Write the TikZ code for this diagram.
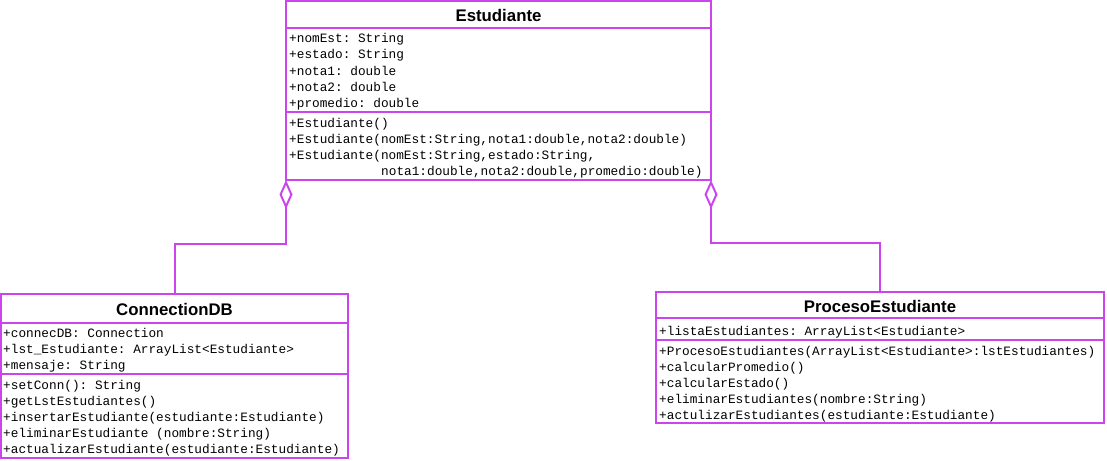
\documentclass[tikz,border=0pt]{standalone}
\usepackage{fontspec}
\setmainfont{Liberation Sans}
\setmonofont{Liberation Mono}
\usetikzlibrary{arrows.meta}
\definecolor{uml}{RGB}{204,68,238}
\tikzset{
  box/.style={draw=uml, line width=2pt, inner sep=0pt, outer sep=0pt, anchor=north west},
  ttl/.style={font=\bfseries\fontsize{16.8}{16.8}\selectfont, inner sep=0pt},
  mem/.style={font=\ttfamily\fontsize{12.75}{16}\selectfont, anchor=base west, inner sep=0pt},
  sep/.style={draw=uml, line width=2pt},
  agg/.style={draw=uml, line width=2pt, {Diamond[open, length=29pt 0, width=13pt 0, line width=2pt]}-},
}
\begin{document}
\begin{tikzpicture}[x=1pt,y=-1pt]
\useasboundingbox (0,0) rectangle (1107,460);
% ---------- Estudiante ----------
\node[box, minimum width=425pt, minimum height=179pt] (est) at (286,1) {};
\draw[sep] (est.west |- 0,28) -- (est.east |- 0,28);
\draw[sep] (est.west |- 0,112) -- (est.east |- 0,112);
\node[ttl] (estT) at (498.5,15) {Estudiante};
\node[mem] (ea1) at (289,43) {+nomEst: String};
\node[mem] (ea2) at (289,59) {+estado: String};
\node[mem] (ea3) at (289,75) {+nota1: double};
\node[mem] (ea4) at (289,91) {+nota2: double};
\node[mem] (ea5) at (289,107) {+promedio: double};
\node[mem] (em1) at (289,127) {+Estudiante()};
\node[mem] (em2) at (289,143) {+Estudiante(nomEst:String,nota1:double,nota2:double)};
\node[mem] (em3) at (289,159) {+Estudiante(nomEst:String,estado:String,};
\node[mem] (em4) at (381,175) {nota1:double,nota2:double,promedio:double)};
% ---------- ConnectionDB ----------
\node[box, minimum width=347pt, minimum height=164pt] (cdb) at (1,294) {};
\draw[sep] (cdb.west |- 0,323) -- (cdb.east |- 0,323);
\draw[sep] (cdb.west |- 0,374) -- (cdb.east |- 0,374);
\node[ttl] (cdbT) at (174.5,309) {ConnectionDB};
\node[mem] (ca1) at (3,337) {+connecDB: Connection};
\node[mem] (ca2) at (3,353) {+lst\_Estudiante: ArrayList<Estudiante>};
\node[mem] (ca3) at (3,369) {+mensaje: String};
\node[mem] (cm1) at (3,389) {+setConn(): String};
\node[mem] (cm2) at (3,405) {+getLstEstudiantes()};
\node[mem] (cm3) at (3,421) {+insertarEstudiante(estudiante:Estudiante)};
\node[mem] (cm4) at (3,437) {+eliminarEstudiante (nombre:String)};
\node[mem] (cm5) at (3,453) {+actualizarEstudiante(estudiante:Estudiante)};
% ---------- ProcesoEstudiante ----------
\node[box, minimum width=448pt, minimum height=131pt] (pe) at (656,292) {};
\draw[sep] (pe.west |- 0,318) -- (pe.east |- 0,318);
\draw[sep] (pe.west |- 0,340) -- (pe.east |- 0,340);
\node[ttl] (peT) at (880,306) {ProcesoEstudiante};
\node[mem] (pa1) at (659,335) {+listaEstudiantes: ArrayList<Estudiante>};
\node[mem] (pm1) at (659,355) {+ProcesoEstudiantes(ArrayList<Estudiante>:lstEstudiantes)};
\node[mem] (pm2) at (659,371) {+calcularPromedio()};
\node[mem] (pm3) at (659,387) {+calcularEstado()};
\node[mem] (pm4) at (659,403) {+eliminarEstudiantes(nombre:String)};
\node[mem] (pm5) at (659,419) {+actulizarEstudiantes(estudiante:Estudiante)};
% ---------- connectors ----------
\coordinate (j1) at (174.5,244);
\coordinate (j2) at (880,243);
\draw[agg] (est.south west) -- (est.south west |- j1) -- (j1) -- (cdb.north);
\draw[agg] (est.south east) -- (est.south east |- j2) -- (j2) -- (pe.north);
\end{tikzpicture}
\end{document}
